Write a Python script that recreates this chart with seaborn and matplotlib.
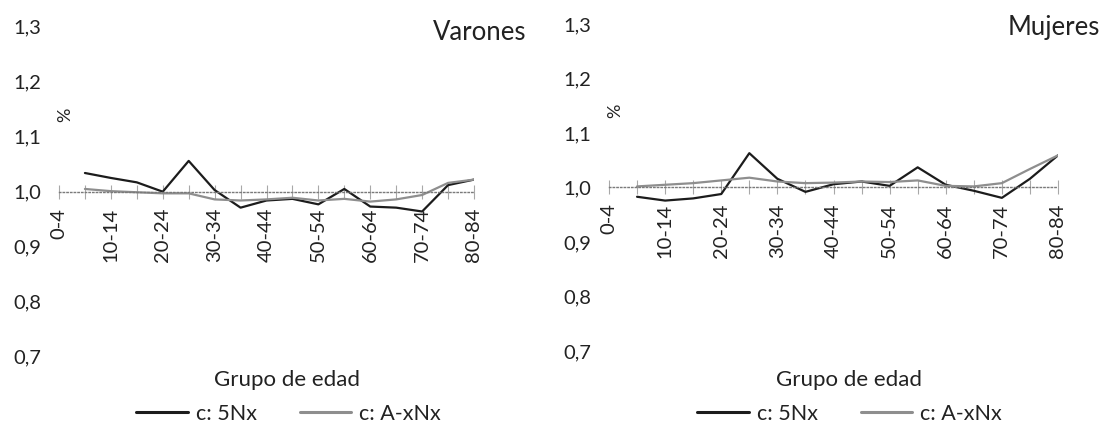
import numpy as np
import pandas as pd
import seaborn as sns
import matplotlib.pyplot as plt
import matplotlib.transforms as mtransforms

# === DATOS ===
ages = ["0-4", "5-9", "10-14", "15-19", "20-24", "25-29", "30-34", "35-39",
        "40-44", "45-49", "50-54", "55-59", "60-64", "65-69", "70-74",
        "75-79", "80-84"]

varones_5nx = [np.nan, 1.034, 1.025, 1.017, 1.000, 1.056, 1.003, 0.971, 0.984,
               0.987, 0.977, 1.005, 0.973, 0.971, 0.964, 1.012, 1.022]
varones_axnx = [np.nan, 1.005, 1.001, 0.999, 0.997, 0.997, 0.986, 0.984, 0.986,
                0.989, 0.984, 0.987, 0.982, 0.986, 0.994, 1.016, 1.022]

mujeres_5nx = [np.nan, 0.983, 0.976, 0.980, 0.988, 1.063, 1.016, 0.992, 1.006,
               1.011, 1.003, 1.037, 1.005, 0.994, 0.981, 1.016, 1.059]
mujeres_axnx = [np.nan, 1.002, 1.005, 1.008, 1.013, 1.018, 1.011, 1.008, 1.009,
                1.011, 1.010, 1.013, 1.003, 1.002, 1.008, 1.034, 1.059]

series_names = ["c: 5Nx", "c: A-xNx"]
yticks = [0.7, 0.8, 0.9, 1.0, 1.1, 1.2, 1.3]

# === ESTILO ===
sns.set_theme(style="white")
plt.rcParams["font.family"] = ["Lato", "DejaVu Sans"]
TEXT = "#222222"
PALETTE = {"c: 5Nx": "#1c1c1c", "c: A-xNx": "#8e8e8e"}
W, H = 1104, 424

fig = plt.figure(figsize=(W / 100, H / 100), dpi=100)
ax_v = fig.add_axes([59 / W, 1 - 356.7 / H, 415 / W, 330 / H])
ax_m = fig.add_axes([609 / W, 1 - 351 / H, 449 / W, 327 / H])


def draw_panel(ax, s_5nx, s_axnx, title, title_xy, xlabel_x, legend_x):
    df = pd.DataFrame({"pos": range(len(ages)), series_names[0]: s_5nx,
                       series_names[1]: s_axnx})
    df = df.melt(id_vars="pos", var_name="serie", value_name="valor").dropna()
    sns.lineplot(data=df, x="pos", y="valor", hue="serie", palette=PALETTE,
                 estimator=None, linewidth=1.6, ax=ax)

    for side in ["top", "right", "left"]:
        ax.spines[side].set_visible(False)
    # el eje de categorías cruza en 1,0
    ax.spines["bottom"].set_position(("data", 1.0))
    ax.spines["bottom"].set_linestyle(":")
    ax.spines["bottom"].set_color("#7a7a7a")
    ax.spines["bottom"].set_linewidth(1.0)

    ax.set_xlim(0, len(ages) - 1)
    ax.set_ylim(0.7, 1.3)
    ax.set_yticks(yticks)
    ax.set_yticklabels([f"{v:.1f}".replace(".", ",") for v in yticks])
    ax.set_xticks(range(len(ages)))
    ax.set_xticklabels([a if i % 2 == 0 else "" for i, a in enumerate(ages)])
    ax.set_xlabel("")
    ax.set_ylabel("")

    ax.tick_params(axis="x", bottom=True, direction="inout", length=10,
                   width=0.8, color="#a8a8a8", pad=6.5, labelsize=14.5,
                   labelcolor=TEXT, labelrotation=90)
    ax.tick_params(axis="y", left=False, length=0, pad=13, labelsize=14.5,
                   labelcolor=TEXT)

    trans = mtransforms.blended_transform_factory(ax.transAxes, ax.transData)
    ax.text(0.015, 1.14, "%", transform=trans, rotation=90, ha="center",
            va="center", fontsize=13, color=TEXT)

    fig.text(title_xy[0] / W, 1 - title_xy[1] / H, title, ha="right",
             va="baseline", fontsize=18.5, color=TEXT)
    fig.text(xlabel_x / W, 1 - 386 / H, "Grupo de edad", ha="center",
             va="baseline", fontsize=16, color=TEXT)

    sns.move_legend(ax, "center", bbox_to_anchor=(legend_x / W, 1 - 414 / H),
                    bbox_transform=fig.transFigure, ncol=2, title=None,
                    frameon=False, fontsize=15.5, handlelength=2.4,
                    handletextpad=0.35, columnspacing=2.0, borderpad=0,
                    borderaxespad=0)
    leg = ax.get_legend()
    for t in leg.get_texts():
        t.set_color(TEXT)
    for line in leg.get_lines():
        line.set_linewidth(2.2)


draw_panel(ax_v, varones_5nx, varones_axnx, "Varones", (526, 40), 287, 288.5)
draw_panel(ax_m, mujeres_5nx, mujeres_axnx, "Mujeres", (1100, 35), 848.5, 849.5)

fig.savefig("out.png", dpi=100)
